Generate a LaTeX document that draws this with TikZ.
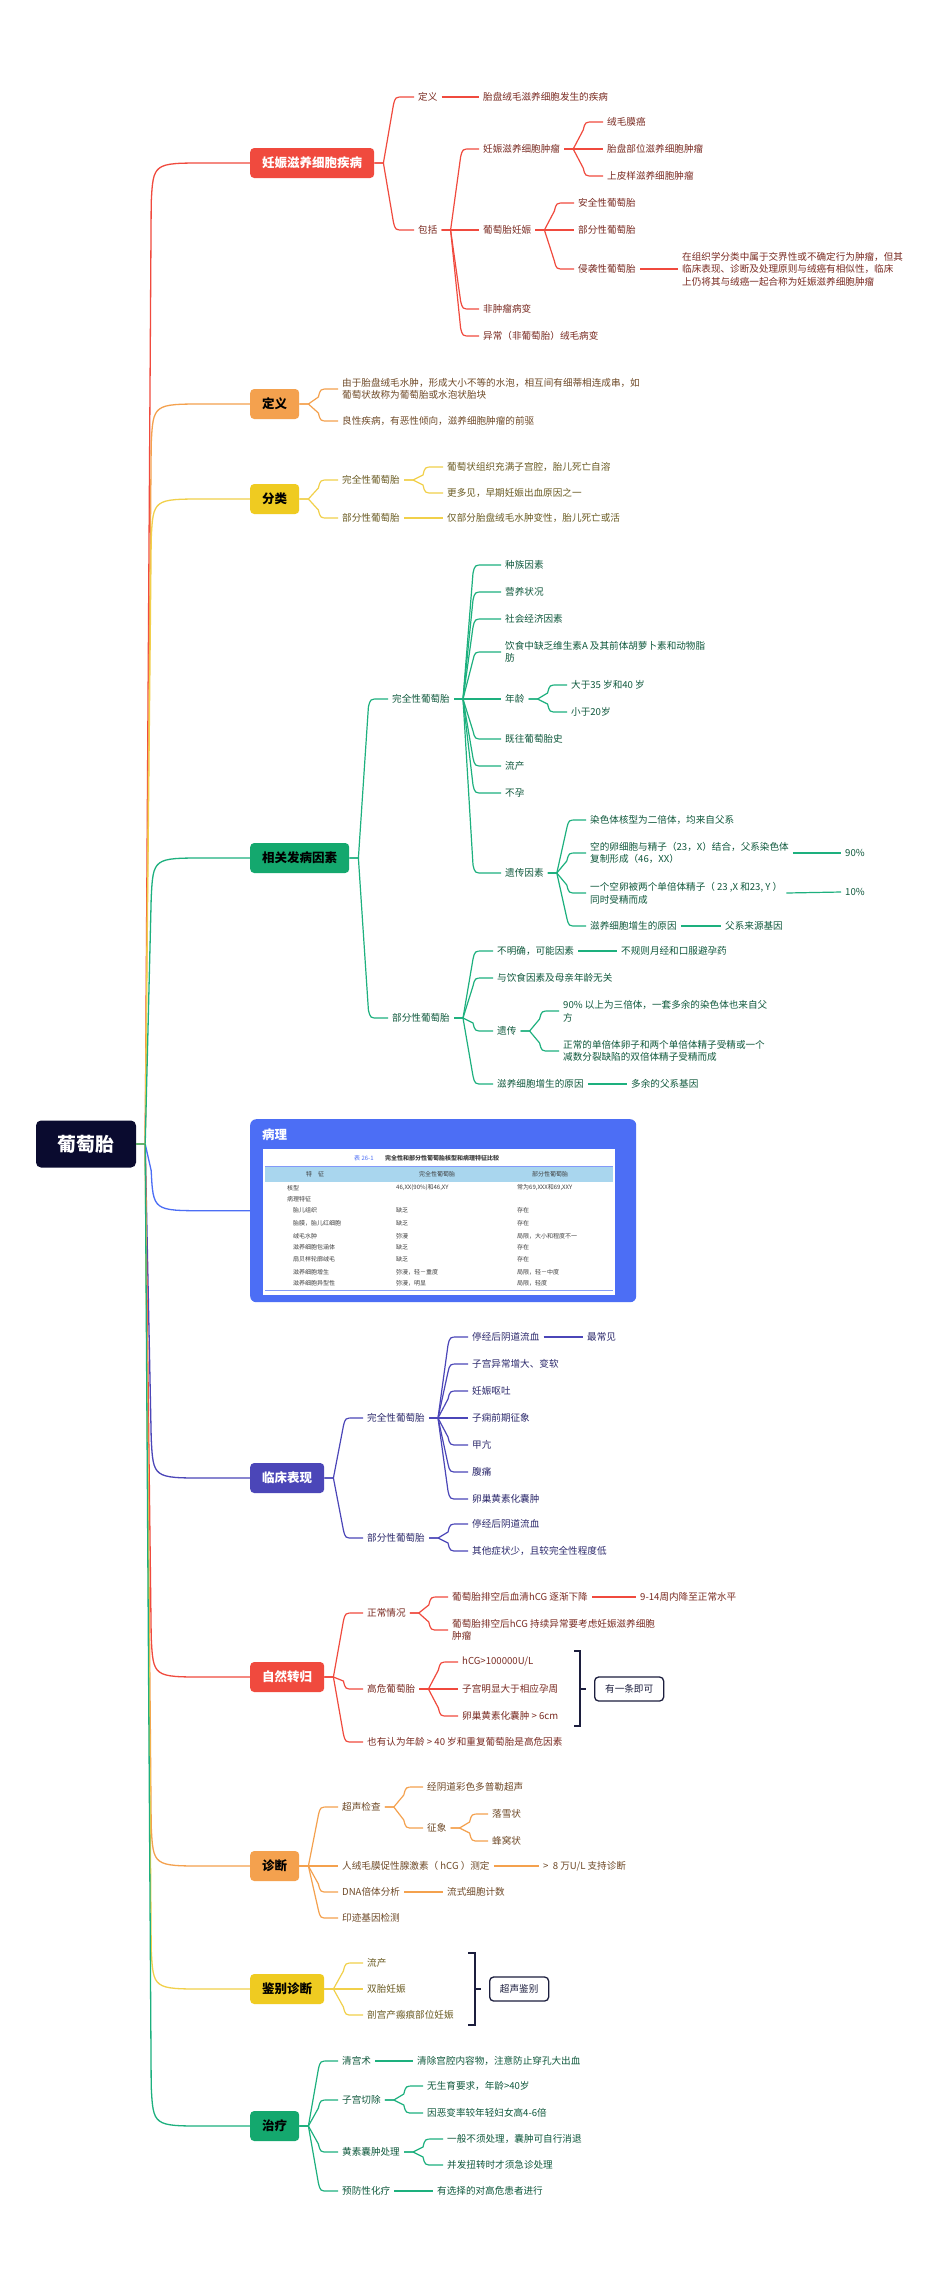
\documentclass[tikz,border=0pt]{standalone}
\usepackage{fontspec}
\setmainfont{Noto Sans CJK SC}
\usetikzlibrary{calc}
\definecolor{rootc}{HTML}{0A0B2F}
\definecolor{redc}{HTML}{F04A3E}
\definecolor{redt}{HTML}{7A2B22}
\definecolor{orc}{HTML}{F4A14E}
\definecolor{ort}{HTML}{6F4A28}
\definecolor{yelc}{HTML}{EFCB21}
\definecolor{yell}{HTML}{F1D04A}
\definecolor{yelt}{HTML}{6A5B22}
\definecolor{grnc}{HTML}{14A86E}
\definecolor{grnl}{HTML}{1DB07E}
\definecolor{grnt}{HTML}{10593D}
\definecolor{bluc}{HTML}{4C6EF5}
\definecolor{indc}{HTML}{4B46B8}
\definecolor{indt}{HTML}{2C296C}
\definecolor{navy}{HTML}{1C1E3E}
\definecolor{tabt}{HTML}{3E3E3E}
\definecolor{hdr}{HTML}{A9D6EE}
\tikzset{
  rootbox/.style={fill=rootc, text=white, rounded corners=5pt, minimum width=100pt, minimum height=47pt,
    font=\bfseries\fontsize{19}{22}\selectfont},
  topic/.style={anchor=west, rounded corners=4pt, minimum height=30pt, inner xsep=12pt,
    font=\bfseries\fontsize{12.5}{15}\selectfont},
  leaf/.style={anchor=west, inner xsep=4pt, inner ysep=1.5pt, align=left, text=#1,
    font=\fontsize{9.6}{12.6}\selectfont},
  leaf/.default=black,
  cell/.style={anchor=west, inner sep=0pt, text=tabt, font=\fontsize{6}{6.5}\selectfont},
  notebox/.style={anchor=west, draw=navy, line width=1.3pt, rounded corners=4pt, fill=white, text=navy,
    minimum height=24pt, font=\fontsize{9.6}{12}\selectfont},
  brk/.style={draw=navy, line width=1.8pt},
  twig/.style={to path={-- ++(9,0) coordinate (tw)
      let \p1=(tw), \p2=(\tikztotarget), \n1={sign(\y2-\y1)*min(8,abs(\y2-\y1))} in
      -- (\x1+10pt,\y2-\n1*1pt) .. controls (\x1+12pt,\y2) .. (\x1+20pt,\y2) -- (\tikztotarget)}},
  rtwig/.style={to path={-- ++(9,0) coordinate (tw)
      -- ($(tw |- \tikztotarget)!40pt!(tw) + (6,0)$)
      .. controls ($(tw |- \tikztotarget) + (8,0)$) and ($(tw |- \tikztotarget) + (8,0)$)
      .. ($(tw |- \tikztotarget) + (60,0)$) -- (\tikztotarget)}},
  redl/.style={draw=redc, line width=1.2pt},
  orl/.style={draw=orc, line width=1.2pt},
  yll/.style={draw=yell, line width=1.2pt},
  gnl/.style={draw=grnl, line width=1.2pt},
  inl/.style={draw=indc, line width=1.2pt},
}

\begin{document}
\begin{tikzpicture}[x=1pt,y=-1pt]
\fill[white] (0,0) rectangle (950,2287);
\useasboundingbox (0,0) rectangle (950,2287);

% root
\node[rootbox] (root) at (86,1144) {葡萄胎};

% 妊娠滋养细胞疾病
\node[topic, fill=redc, text=white] (r1) at (250,163) {妊娠滋养细胞疾病};
\node[leaf=redt] (r1a) at (414,97) {定义};
\node[leaf=redt] (r1a1) at (479,97) {胎盘绒毛滋养细胞发生的疾病};
\node[leaf=redt] (r1b) at (414,230) {包括};
\node[leaf=redt] (r1b1) at (479,149) {妊娠滋养细胞肿瘤};
\node[leaf=redt] (r1b1a) at (603,122) {绒毛膜癌};
\node[leaf=redt] (r1b1b) at (603,149) {胎盘部位滋养细胞肿瘤};
\node[leaf=redt] (r1b1c) at (603,176) {上皮样滋养细胞肿瘤};
\node[leaf=redt] (r1b2) at (479,230) {葡萄胎妊娠};
\node[leaf=redt] (r1b2a) at (574,203) {安全性葡萄胎};
\node[leaf=redt] (r1b2b) at (574,230) {部分性葡萄胎};
\node[leaf=redt] (r1b2c) at (574,269) {侵袭性葡萄胎};
\node[leaf=redt] (r1b2d) at (678,269) {在组织学分类中属于交界性或不确定行为肿瘤，但其\\临床表现、诊断及处理原则与绒癌有相似性，临床\\上仍将其与绒癌一起合称为妊娠滋养细胞肿瘤};
\node[leaf=redt] (r1b3) at (479,309) {非肿瘤病变};
\node[leaf=redt] (r1b4) at (479,336) {异常（非葡萄胎）绒毛病变};
\foreach \c in {r1a,r1b} \draw[redl] (r1.east) to[twig] (\c.west);
\foreach \c in {r1b1,r1b2,r1b3,r1b4} \draw[redl] (r1b.east) to[twig] (\c.west);
\foreach \c in {r1b1a,r1b1b,r1b1c} \draw[redl] (r1b1.east) to[twig] (\c.west);
\foreach \c in {r1b2a,r1b2b,r1b2c} \draw[redl] (r1b2.east) to[twig] (\c.west);
\draw[redl] (r1a.east) -- (r1a1.west);
\draw[redl] (r1b2c.east) -- (r1b2d.west);

% 定义
\node[topic, fill=orc] (o1) at (250,404) {定义};
\node[leaf=ort] (o1a) at (338,389) {由于胎盘绒毛水肿，形成大小不等的水泡，相互间有细蒂相连成串，如\\葡萄状故称为葡萄胎或水泡状胎块};
\node[leaf=ort] (o1b) at (338,421) {良性疾病，有恶性倾向，滋养细胞肿瘤的前驱};
\foreach \c in {o1a,o1b} \draw[orl] (o1.east) to[twig] (\c.west);

% 分类
\node[topic, fill=yelc] (y1) at (250,499) {分类};
\node[leaf=yelt] (y1a) at (338,480) {完全性葡萄胎};
\node[leaf=yelt] (y1a1) at (443,467) {葡萄状组织充满子宫腔，胎儿死亡自溶};
\node[leaf=yelt] (y1a2) at (443,493) {更多见，早期妊娠出血原因之一};
\node[leaf=yelt] (y1b) at (338,518) {部分性葡萄胎};
\node[leaf=yelt] (y1b1) at (443,518) {仅部分胎盘绒毛水肿变性，胎儿死亡或活};
\foreach \c in {y1a,y1b} \draw[yll] (y1.east) to[twig] (\c.west);
\foreach \c in {y1a1,y1a2} \draw[yll] (y1a.east) to[twig] (\c.west);
\draw[yll] (y1b.east) -- (y1b1.west);

% 相关发病因素
\node[topic, fill=grnc] (g1) at (250,858) {相关发病因素};
\node[leaf=grnt] (g1a) at (388,699) {完全性葡萄胎};
\node[leaf=grnt] (g1a1) at (501,565) {种族因素};
\node[leaf=grnt] (g1a2) at (501,592) {营养状况};
\node[leaf=grnt] (g1a3) at (501,619) {社会经济因素};
\node[leaf=grnt] (g1a4) at (501,652) {饮食中缺乏维生素A 及其前体胡萝卜素和动物脂\\肪};
\node[leaf=grnt] (g1a5) at (501,699) {年龄};
\node[leaf=grnt] (g1a5a) at (567,685) {大于35 岁和40 岁};
\node[leaf=grnt] (g1a5b) at (567,712) {小于20岁};
\node[leaf=grnt] (g1a6) at (501,739) {既往葡萄胎史};
\node[leaf=grnt] (g1a7) at (501,766) {流产};
\node[leaf=grnt] (g1a8) at (501,793) {不孕};
\node[leaf=grnt] (g1a9) at (501,873) {遗传因素};
\node[leaf=grnt] (g1a9a) at (586,820) {染色体核型为二倍体，均来自父系};
\node[leaf=grnt] (g1a9b) at (586,853) {空的卵细胞与精子（23，X）结合，父系染色体\\复制形成（46，XX）};
\node[leaf=grnt] (g1a9b1) at (841,853) {90\%};
\node[leaf=grnt] (g1a9c) at (586,893) {一个空卵被两个单倍体精子（ 23 ,X 和23, Y ）\\同时受精而成};
\node[leaf=grnt] (g1a9c1) at (841,892) {10\%};
\node[leaf=grnt] (g1a9d) at (586,926) {滋养细胞增生的原因};
\node[leaf=grnt] (g1a9d1) at (721,926) {父系来源基因};
\node[leaf=grnt] (g1b) at (388,1018) {部分性葡萄胎};
\node[leaf=grnt] (g1b1) at (493,951) {不明确，可能因素};
\node[leaf=grnt] (g1b1a) at (617,951) {不规则月经和口服避孕药};
\node[leaf=grnt] (g1b2) at (493,978) {与饮食因素及母亲年龄无关};
\node[leaf=grnt] (g1b3) at (493,1031) {遗传};
\node[leaf=grnt] (g1b3a) at (559,1011) {90\% 以上为三倍体，一套多余的染色体也来自父\\方};
\node[leaf=grnt] (g1b3b) at (559,1051) {正常的单倍体卵子和两个单倍体精子受精或一个\\减数分裂缺陷的双倍体精子受精而成};
\node[leaf=grnt] (g1b4) at (493,1084) {滋养细胞增生的原因};
\node[leaf=grnt] (g1b4a) at (627,1084) {多余的父系基因};
\foreach \c in {g1a,g1b} \draw[gnl] (g1.east) to[twig] (\c.west);
\foreach \c in {g1a1,g1a2,g1a3,g1a4,g1a5,g1a6,g1a7,g1a8,g1a9} \draw[gnl] (g1a.east) to[twig] (\c.west);
\foreach \c in {g1a5a,g1a5b} \draw[gnl] (g1a5.east) to[twig] (\c.west);
\foreach \c in {g1a9a,g1a9b,g1a9c,g1a9d} \draw[gnl] (g1a9.east) to[twig] (\c.west);
\foreach \c in {g1b1,g1b2,g1b3,g1b4} \draw[gnl] (g1b.east) to[twig] (\c.west);
\foreach \c in {g1b3a,g1b3b} \draw[gnl] (g1b3.east) to[twig] (\c.west);
\draw[gnl] (g1a9b.east) -- (g1a9b1.west);
\draw[gnl] (g1a9c.east) -- (g1a9c1.west);
\draw[gnl] (g1a9d.east) -- (g1a9d1.west);
\draw[gnl] (g1b1.east) -- (g1b1a.west);
\draw[gnl] (g1b4.east) -- (g1b4a.west);

% 病理
\node[anchor=north west, fill=bluc, rounded corners=6pt, minimum width=386pt, minimum height=183pt] (pb) at (250,1119) {};
\node[anchor=west, inner sep=0pt, text=white, font=\bfseries\fontsize{12.5}{15}\selectfont] (pbt) at (262,1135) {病理};
\node[anchor=north west, fill=white, minimum width=352pt, minimum height=146pt, inner sep=0pt] (tb) at (263,1149) {};
\fill[hdr] (265,1166) rectangle (613,1182);
\draw[bluc!70, line width=0.5pt] (265,1166) -- (613,1166) (265,1290) -- (613,1290);
\node[cell, text=bluc] (tt1) at (354,1158) {表 26-1};
\node[cell, font=\bfseries\fontsize{6}{6.5}\selectfont] (tt2) at (385,1158) {完全性和部分性葡萄胎核型和病理特征比较};
\node[cell, anchor=center] (th1) at (315,1174) {特\quad 征};
\node[cell, anchor=center] (th2) at (437,1174) {完全性葡萄胎};
\node[cell, anchor=center] (th3) at (550,1174) {部分性葡萄胎};
\node[cell] (tr0a) at (287,1188) {核型};
\node[cell] (tr0b) at (396,1188) {46,XX(90\%)和46,XY};
\node[cell] (tr0c) at (517,1188) {常为69,XXX和69,XXY};
\node[cell] (tr0d) at (287,1199) {病理特征};
\foreach \yy/\ca/\cb/\cc [count=\k] in {1210/胎儿组织/缺乏/存在, 1223/胎膜，胎儿红细胞/缺乏/存在,
    1236/绒毛水肿/弥漫/局限，大小和程度不一, 1247/滋养细胞包涵体/缺乏/存在,
    1259/扇贝样轮廓绒毛/缺乏/存在, 1272/滋养细胞增生/弥漫，轻－重度/局限，轻－中度,
    1283/滋养细胞异型性/弥漫，明显/局限，轻度} {
  \node[cell] (tr\k a) at (293,\yy) {\ca};
  \node[cell] (tr\k b) at (396,\yy) {\cb};
  \node[cell] (tr\k c) at (517,\yy) {\cc};
}

% 临床表现
\node[topic, fill=indc, text=white] (i1) at (250,1478) {临床表现};
\node[leaf=indt] (i1a) at (363,1418) {完全性葡萄胎};
\node[leaf=indt] (i1a1) at (468,1337) {停经后阴道流血};
\node[leaf=indt] (i1a1a) at (583,1337) {最常见};
\node[leaf=indt] (i1a2) at (468,1364) {子宫异常增大、变软};
\node[leaf=indt] (i1a3) at (468,1391) {妊娠呕吐};
\node[leaf=indt] (i1a4) at (468,1418) {子痫前期征象};
\node[leaf=indt] (i1a5) at (468,1445) {甲亢};
\node[leaf=indt] (i1a6) at (468,1472) {腹痛};
\node[leaf=indt] (i1a7) at (468,1499) {卵巢黄素化囊肿};
\node[leaf=indt] (i1b) at (363,1538) {部分性葡萄胎};
\node[leaf=indt] (i1b1) at (468,1524) {停经后阴道流血};
\node[leaf=indt] (i1b2) at (468,1551) {其他症状少，且较完全性程度低};
\foreach \c in {i1a,i1b} \draw[inl] (i1.east) to[twig] (\c.west);
\foreach \c in {i1a1,i1a2,i1a3,i1a4,i1a5,i1a6,i1a7} \draw[inl] (i1a.east) to[twig] (\c.west);
\foreach \c in {i1b1,i1b2} \draw[inl] (i1b.east) to[twig] (\c.west);
\draw[inl] (i1a1.east) -- (i1a1a.west);

% 自然转归
\node[topic, fill=redc, text=white] (n1) at (250,1677) {自然转归};
\node[leaf=redt] (n1a) at (363,1613) {正常情况};
\node[leaf=redt] (n1a1) at (448,1597) {葡萄胎排空后血清hCG 逐渐下降};
\node[leaf=redt] (n1a1a) at (636,1597) {9-14周内降至正常水平};
\node[leaf=redt] (n1a2) at (448,1630) {葡萄胎排空后hCG 持续异常要考虑妊娠滋养细胞\\肿瘤};
\node[leaf=redt] (n1b) at (363,1689) {高危葡萄胎};
\node[leaf=redt] (n1b1) at (458,1662) {hCG>100000U/L};
\node[leaf=redt] (n1b2) at (458,1689) {子宫明显大于相应孕周};
\node[leaf=redt] (n1b3) at (458,1716) {卵巢黄素化囊肿 > 6cm};
\node[leaf=redt] (n1c) at (363,1742) {也有认为年龄 > 40 岁和重复葡萄胎是高危因素};
\foreach \c in {n1a,n1b,n1c} \draw[redl] (n1.east) to[twig] (\c.west);
\foreach \c in {n1a1,n1a2} \draw[redl] (n1a.east) to[twig] (\c.west);
\foreach \c in {n1b1,n1b2,n1b3} \draw[redl] (n1b.east) to[twig] (\c.west);
\draw[redl] (n1a1.east) -- (n1a1a.west);
\coordinate (nbt) at (574,1651);
\coordinate (nbb) at (574,1726);
\coordinate (nbm) at (580,1689);
\node[notebox, minimum width=69pt] (nb) at (594,1689) {有一条即可};
\draw[brk] (nbt) -- ++(6,0) |- (nbb);
\draw[brk] (nbm) -- ++(6,0);

% 诊断
\node[topic, fill=orc] (d1) at (250,1866) {诊断};
\node[leaf=ort] (d1a) at (338,1807) {超声检查};
\node[leaf=ort] (d1a1) at (423,1787) {经阴道彩色多普勒超声};
\node[leaf=ort] (d1a2) at (423,1828) {征象};
\node[leaf=ort] (d1a2a) at (488,1814) {落雪状};
\node[leaf=ort] (d1a2b) at (488,1841) {蜂窝状};
\node[leaf=ort] (d1b) at (338,1866) {人绒毛膜促性腺激素（ hCG ）测定};
\node[leaf=ort] (d1b1) at (539,1866) {> \ 8 万U/L 支持诊断};
\node[leaf=ort] (d1c) at (338,1892) {DNA倍体分析};
\node[leaf=ort] (d1c1) at (443,1892) {流式细胞计数};
\node[leaf=ort] (d1d) at (338,1918) {印迹基因检测};
\foreach \c in {d1a,d1b,d1c,d1d} \draw[orl] (d1.east) to[twig] (\c.west);
\foreach \c in {d1a1,d1a2} \draw[orl] (d1a.east) to[twig] (\c.west);
\foreach \c in {d1a2a,d1a2b} \draw[orl] (d1a2.east) to[twig] (\c.west);
\draw[orl] (d1b.east) -- (d1b1.west);
\draw[orl] (d1c.east) -- (d1c1.west);

% 鉴别诊断
\node[topic, fill=yelc] (k1) at (250,1989) {鉴别诊断};
\node[leaf=yelt] (k1a) at (363,1963) {流产};
\node[leaf=yelt] (k1b) at (363,1989) {双胎妊娠};
\node[leaf=yelt] (k1c) at (363,2015) {剖宫产瘢痕部位妊娠};
\foreach \c in {k1a,k1b,k1c} \draw[yll] (k1.east) to[twig] (\c.west);
\coordinate (kbt) at (468,1953);
\coordinate (kbb) at (468,2025);
\coordinate (kbm) at (475,1989);
\node[notebox, minimum width=59pt] (kb) at (489,1989) {超声鉴别};
\draw[brk] (kbt) -- ++(7,0) |- (kbb);
\draw[brk] (kbm) -- ++(6,0);

% 治疗
\node[topic, fill=grnc] (t1) at (250,2126) {治疗};
\node[leaf=grnt] (t1a) at (338,2061) {清宫术};
\node[leaf=grnt] (t1a1) at (413,2061) {清除宫腔内容物，注意防止穿孔大出血};
\node[leaf=grnt] (t1b) at (338,2100) {子宫切除};
\node[leaf=grnt] (t1b1) at (423,2086) {无生育要求，年龄>40岁};
\node[leaf=grnt] (t1b2) at (423,2113) {因恶变率较年轻妇女高4-6倍};
\node[leaf=grnt] (t1c) at (338,2152) {黄素囊肿处理};
\node[leaf=grnt] (t1c1) at (443,2139) {一般不须处理，囊肿可自行消退};
\node[leaf=grnt] (t1c2) at (443,2165) {并发扭转时才须急诊处理};
\node[leaf=grnt] (t1d) at (338,2191) {预防性化疗};
\node[leaf=grnt] (t1d1) at (433,2191) {有选择的对高危患者进行};
\foreach \c in {t1a,t1b,t1c,t1d} \draw[gnl] (t1.east) to[twig] (\c.west);
\foreach \c in {t1b1,t1b2} \draw[gnl] (t1b.east) to[twig] (\c.west);
\foreach \c in {t1c1,t1c2} \draw[gnl] (t1c.east) to[twig] (\c.west);
\draw[gnl] (t1a.east) -- (t1a1.west);
\draw[gnl] (t1d.east) -- (t1d1.west);

% root branches
\foreach \t/\c in {r1/redc, o1/orc, y1/yell, g1/grnl, pb/bluc, i1/indc, n1/redc, d1/orc, k1/yell, t1/grnl}
  \draw[draw=\c, line width=1.3pt] (root.east) to[rtwig] (\t.west);
\end{tikzpicture}
\end{document}
